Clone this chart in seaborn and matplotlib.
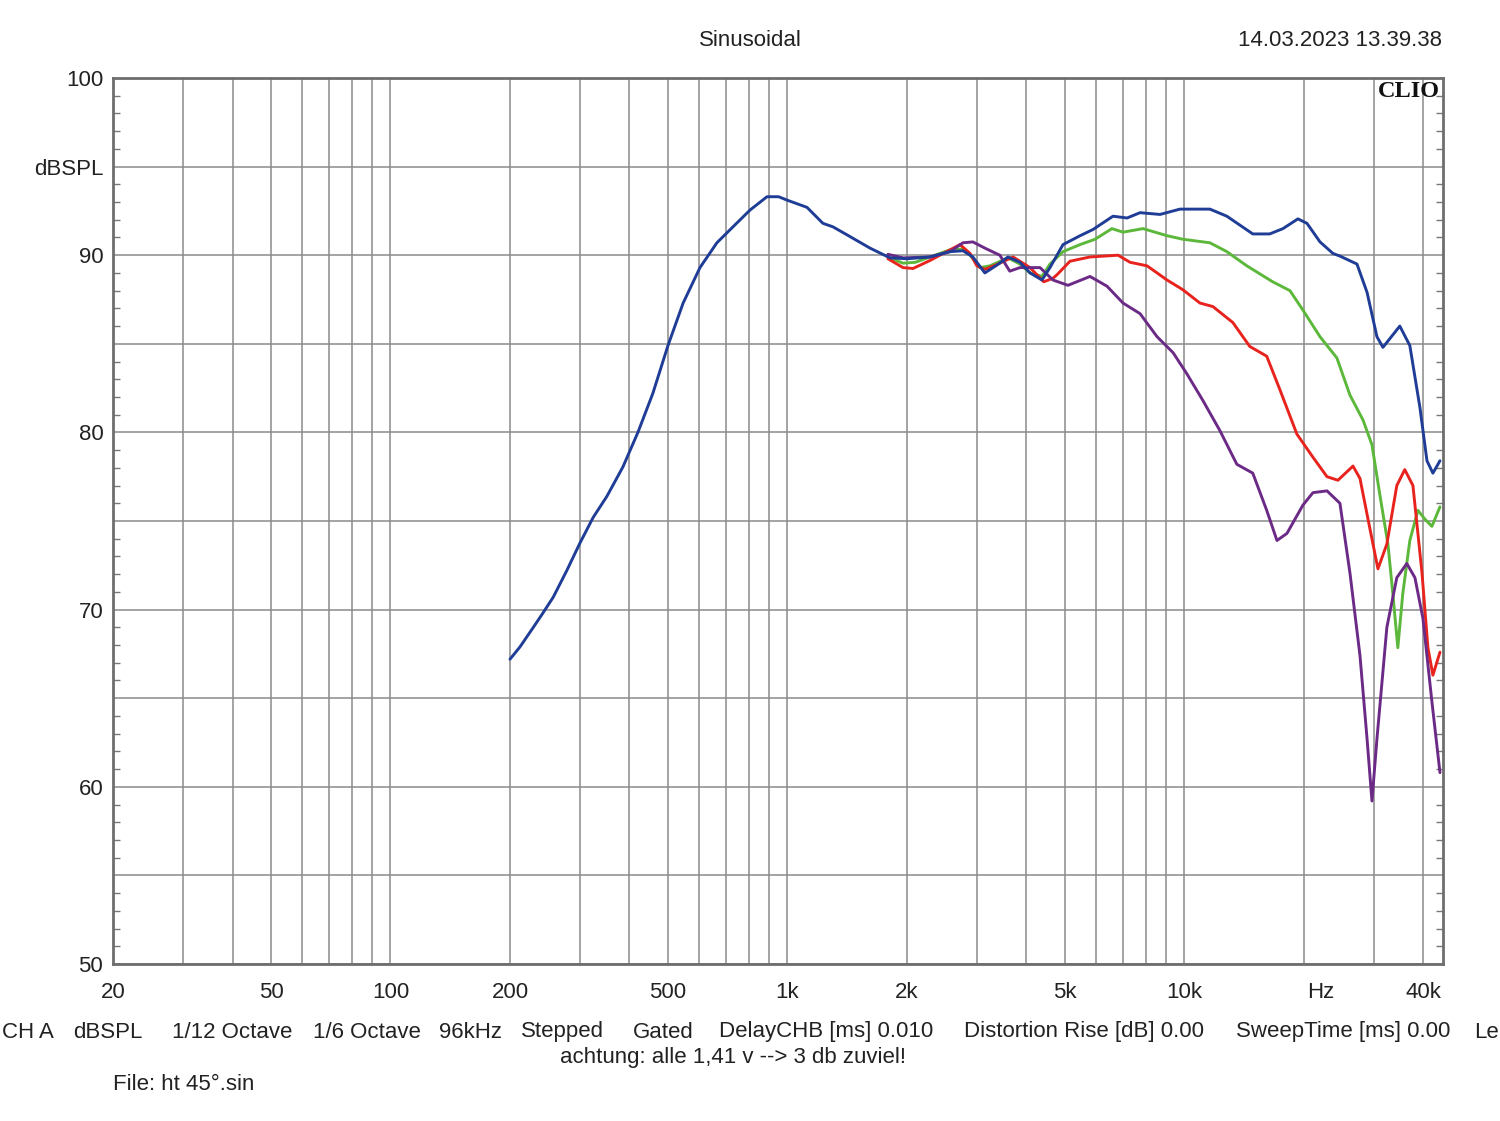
import numpy as np
import pandas as pd
import matplotlib
matplotlib.use("Agg")
import matplotlib.pyplot as plt
import seaborn as sns
from matplotlib.ticker import FixedLocator, FixedFormatter, NullFormatter

# ---------------- data ----------------
blue_freq = [200, 212, 229, 242, 257, 278, 300, 324, 351, 385, 420, 458, 500, 546, 602, 664, 729, 805, 888, 950, 1000,
             1120, 1228, 1302, 1412, 1614, 1812, 2002, 2285, 2566, 2767, 2931, 3142, 3400, 3592, 3851, 4083, 4376,
             4584, 4945, 5459, 5883, 6606, 7168, 7731, 8678, 9743, 11591, 12789, 14864, 16395, 17707, 19313, 20350,
             21950, 23660, 24640, 27200, 28840, 30540, 31620, 34870, 36960, 39190, 40820, 42250, 44020]
blue_db = [67.2, 67.9, 69.0, 69.8, 70.7, 72.2, 73.75, 75.2, 76.4, 78.05, 80.0, 82.2, 84.9, 87.3, 89.3, 90.7, 91.6,
           92.55, 93.3, 93.3, 93.1, 92.7, 91.8, 91.6, 91.15, 90.4, 89.85, 89.8, 89.9, 90.2, 90.25, 89.9, 89.0, 89.5,
           89.9, 89.6, 89.0, 88.6, 89.3, 90.6, 91.1, 91.45, 92.2, 92.1, 92.4, 92.3, 92.6, 92.6, 92.2, 91.2, 91.2,
           91.5, 92.05, 91.8, 90.75, 90.1, 89.95, 89.5, 87.9, 85.4, 84.8, 86.0, 84.9, 81.4, 78.4, 77.7, 78.4]

green_freq = [1791, 1955, 2100, 2285, 2566, 2767, 2884, 3054, 3237, 3592, 3851, 4083, 4376, 4584, 4945, 5459, 5953,
              6566, 7002, 7866, 9039, 9911, 11591, 12789, 14359, 16680, 18438, 19885, 21950, 24210, 26120, 28170,
              29670, 31050, 32550, 33490, 34470, 35480, 36960, 38740, 40350, 42010, 44020]
green_db = [89.9, 89.55, 89.6, 89.9, 90.3, 90.35, 90.0, 89.3, 89.4, 89.85, 89.5, 89.0, 88.8, 89.5, 90.2, 90.6, 90.9,
            91.5, 91.3, 91.5, 91.1, 90.9, 90.7, 90.2, 89.4, 88.5, 88.0, 86.9, 85.4, 84.2, 82.1, 80.7, 79.3, 76.5,
            73.7, 70.9, 67.85, 70.9, 73.9, 75.6, 75.1, 74.7, 75.8]

red_freq = [1791, 1955, 2071, 2285, 2566, 2720, 2884, 3000, 3142, 3350, 3700, 4083, 4420, 4665, 4776, 5148, 5783,
            6804, 7293, 8050, 9039, 9911, 10939, 11797, 13241, 14609, 16115, 17402, 19200, 21070, 22860, 24360,
            26580, 27680, 29000, 30720, 32350, 34270, 35890, 37630, 39650, 41050, 42250, 44020]
red_db = [89.8, 89.3, 89.25, 89.7, 90.3, 90.6, 90.1, 89.4, 89.2, 89.45, 89.9, 89.3, 88.5, 88.7, 88.9, 89.66, 89.9,
          90.0, 89.6, 89.4, 88.6, 88.05, 87.3, 87.1, 86.2, 84.85, 84.3, 82.4, 79.9, 78.6, 77.5, 77.3, 78.1, 77.4,
          75.1, 72.3, 73.7, 77.0, 77.9, 77.0, 72.1, 67.85, 66.3, 67.6]

purple_freq = [1791, 1955, 2285, 2566, 2767, 2931, 3142, 3428, 3630, 3851, 4083, 4328, 4665, 5088, 5783, 6382, 7002,
               7731, 8531, 9362, 10145, 11130, 12283, 13552, 14864, 16115, 17102, 18121, 19885, 21070, 22860, 24640,
               26120, 27680, 28840, 29670, 30540, 32350, 34270, 36310, 38070, 39880, 42010, 44020]
purple_db = [90.05, 89.85, 89.9, 90.2, 90.7, 90.75, 90.4, 90.0, 89.1, 89.3, 89.3, 89.3, 88.6, 88.3, 88.8, 88.25,
             87.3, 86.7, 85.4, 84.5, 83.3, 81.8, 80.1, 78.2, 77.7, 75.6, 73.9, 74.3, 75.9, 76.6, 76.7, 76.0, 72.05,
             67.4, 62.7, 59.2, 62.7, 69.0, 71.8, 72.6, 71.8, 69.5, 64.8, 60.8]

x_grid_vals = [20, 30, 40, 50, 60, 70, 80, 90, 100, 200, 300, 400, 500, 600, 700, 800, 900, 1000,
               2000, 3000, 4000, 5000, 6000, 7000, 8000, 9000, 10000, 20000, 30000, 40000]
x_tick_labels = {20: "20", 50: "50", 100: "100", 200: "200", 500: "500", 1000: "1k", 2000: "2k",
                 5000: "5k", 10000: "10k", 40000: "40k"}
x_unit_label = "Hz"
x_unit_pos = 22000
y_tick_vals = [50, 55, 60, 65, 70, 75, 80, 85, 90, 95, 100]
y_tick_labels = ["50", "", "60", "", "70", "", "80", "", "90", "dBSPL", "100"]

footer_items = ["CH A", "dBSPL", "1/12 Octave", "1/6 Octave", "96kHz", "Stepped", "Gated",
                "DelayCHB [ms] 0.010", "Distortion Rise [dB] 0.00", "SweepTime [ms] 0.00"]
footer_x_px = [2, 73, 172, 313, 439, 521, 633, 719, 964, 1236]
footer_tail = "Le"

# ---------------- style ----------------
sns.set_style("white")
plt.rcParams['font.family'] = ['Liberation Sans', 'DejaVu Sans']

W, H = 1500, 1121
fig = plt.figure(figsize=(W / 100, H / 100), dpi=100)
ax_l, ax_r, ax_t, ax_b = 113, 1443, 78, 964
ax = fig.add_axes([ax_l / W, 1 - ax_b / H, (ax_r - ax_l) / W, (ax_b - ax_t) / H])

frames = []
for name, fr, db in [("green", green_freq, green_db), ("red", red_freq, red_db),
                     ("purple", purple_freq, purple_db), ("blue", blue_freq, blue_db)]:
    frames.append(pd.DataFrame({"freq": fr, "db": db, "curve": name}))
df = pd.concat(frames, ignore_index=True)

palette = {"blue": "#1f3d96", "green": "#5cb83a", "red": "#e8231e", "purple": "#6c2a87"}
sns.lineplot(data=df, x="freq", y="db", hue="curve", hue_order=["green", "red", "purple", "blue"],
             palette=palette, estimator=None, sort=True, legend=False, linewidth=2.1, ax=ax, zorder=3)

ax.set_xscale("log")
ax.set_xlim(20, 44800)
ax.set_ylim(50, 100)
ax.set_xlabel("")
ax.set_ylabel("")

grid_color = "#8a8a8a"
text_color = "#222222"
ax.xaxis.set_major_locator(FixedLocator(x_grid_vals))
ax.xaxis.set_major_formatter(FixedFormatter([x_tick_labels.get(v, "") for v in x_grid_vals]))
ax.xaxis.set_minor_locator(FixedLocator([]))
ax.tick_params(axis="x", which="both", length=0, pad=13, labelsize=16, colors=text_color)
ax.grid(True, axis="x", which="major", color=grid_color, linewidth=1.1)
ax.annotate(x_unit_label, xy=(x_unit_pos, 0), xycoords=("data", "axes fraction"),
            xytext=(0, -13), textcoords="offset points", ha="center", va="top",
            fontsize=16, color=text_color)

ax.yaxis.set_major_locator(FixedLocator(y_tick_vals))
ax.yaxis.set_major_formatter(FixedFormatter(y_tick_labels))
ax.yaxis.set_minor_locator(FixedLocator(np.arange(50, 101, 1)))
ax.tick_params(axis="y", which="major", length=0, pad=7, labelsize=16, colors=text_color)
ax.tick_params(axis="y", which="minor", direction="in", length=5, width=1.0, color="#777777",
               left=True, right=True)
ax.grid(True, axis="y", which="major", color=grid_color, linewidth=1.1)

for s in ax.spines.values():
    s.set_visible(True)
    s.set_color("#6e6e6e")
    s.set_linewidth(2.0)
    s.set_zorder(5)

ax.text(0.9975, 0.997, "CLIO", transform=ax.transAxes, ha="right", va="top",
        fontsize=17.5, fontweight="bold", family=["Liberation Serif", "DejaVu Serif"], color="#111111",
        zorder=6)

def fx(px):
    return px / W

def fy(py):
    return 1 - py / H

fig.text(fx(750), fy(40), "Sinusoidal", ha="center", va="center", fontsize=16, color=text_color)
fig.text(fx(1442), fy(40), "14.03.2023 13.39.38", ha="right", va="center", fontsize=16, color=text_color)
for item, px in zip(footer_items, footer_x_px):
    fig.text(fx(px), fy(1032), item, ha="left", va="center", fontsize=16, color=text_color)
fig.text(fx(1499), fy(1032), footer_tail, ha="right", va="center", fontsize=16, color=text_color)
fig.text(fx(733), fy(1058), "achtung: alle 1,41 v --> 3 db zuviel!", ha="center", va="center",
         fontsize=16, color=text_color)
fig.text(fx(113), fy(1085), "File: ht 45°.sin", ha="left", va="center", fontsize=16, color=text_color)

fig.savefig("out.png", dpi=100, facecolor="white")
